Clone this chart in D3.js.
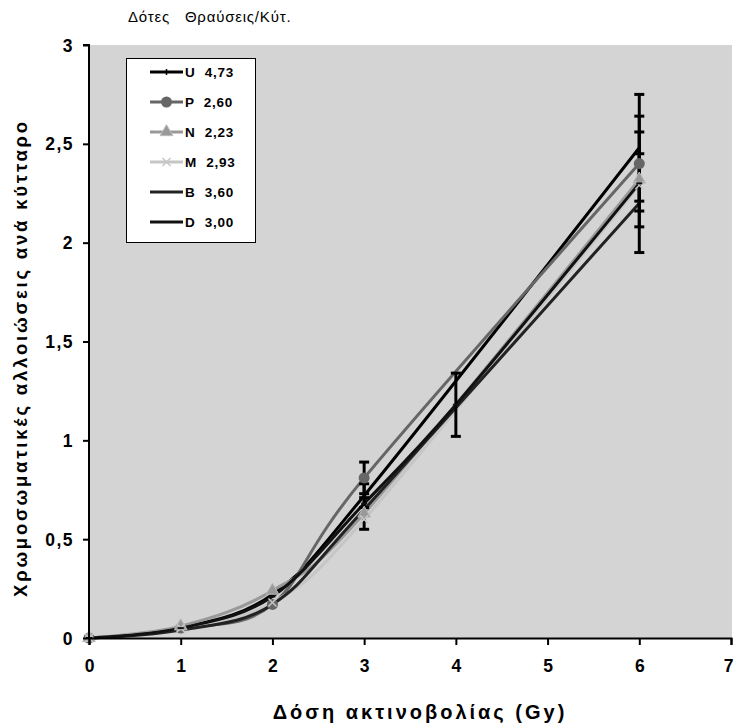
<!DOCTYPE html>
<html><head><meta charset="utf-8">
<script src="https://cdn.jsdelivr.net/npm/d3@7"></script>
<style>body{margin:0;background:#fff}svg{display:block}text{font-family:"Liberation Sans",Arial,sans-serif}</style>
</head><body>
<svg id="c" width="735" height="726"></svg>
<script>
const titleText = "Δότες   Θραύσεις/Κύτ.";
const xTicks = [0,1,2,3,4,5,6,7];
const yTicks = [0,0.5,1,1.5,2,2.5,3];
const yTickLabels = ["0","0,5","1","1,5","2","2,5","3"];
const seriesNames = ["U","P","N","M","B","D"];
const legendValues = ["4,73","2,60","2,23","2,93","3,60","3,00"];
const doses = [0,1,2,3,6];
const dosesD = [0,1,2,3,4,6];
const valU = [0,0.05,0.22,0.72,2.48];
const valP = [0,0.05,0.17,0.81,2.40];
const valN = [0,0.06,0.24,0.63,2.32];
const valM = [0,0.05,0.18,0.60,2.29];
const valB = [0,0.04,0.17,0.65,2.20];
const valD = [0,0.05,0.21,0.68,1.18,2.30];
const errU = [0,0,0,0.06,0.27];
const errP = [0,0,0,0.08,0.24];
const errN = [0,0,0,0.08,0.24];
const errM = [0,0,0,0,0];
const errB = [0,0,0,0,0.25];
const errD = [0,0,0,0,0.16,0];

const series = [
  {name:"U", xs:doses, ys:valU, err:errU, color:"#000000", marker:"vtick"},
  {name:"P", xs:doses, ys:valP, err:errP, color:"#666666", marker:"circle"},
  {name:"N", xs:doses, ys:valN, err:errN, color:"#999999", marker:"triangle"},
  {name:"M", xs:doses, ys:valM, err:errM, color:"#c6c6c6", marker:"cross"},
  {name:"B", xs:doses, ys:valB, err:errB, color:"#222222", marker:"none"},
  {name:"D", xs:dosesD, ys:valD, err:errD, color:"#111111", marker:"dash"}
];

const svg = d3.select("#c");
const L=89, R=731, T=45, B=638;
const x = d3.scaleLinear().domain([0,7]).range([L,R]);
const y = d3.scaleLinear().domain([0,3]).range([B,T]);

svg.append("rect").attr("x",L).attr("y",T).attr("width",R-L+1).attr("height",B-T).attr("fill","#d4d4d4");

// lines
const line = d3.line().curve(d3.curveCardinal.tension(0)).x(d=>x(d[0])).y(d=>y(d[1]));
series.forEach(s=>{
  const pts = s.xs.map((v,i)=>[v,s.ys[i]]);
  svg.append("path").attr("d",line(pts)).attr("fill","none").attr("stroke",s.color).attr("stroke-width",3);
});

function drawMarker(g, type, cx, cy, color){
  if(type==="circle") g.append("circle").attr("cx",cx).attr("cy",cy).attr("r",5.5).attr("fill",color);
  else if(type==="triangle") g.append("path").attr("d",d3.symbol(d3.symbolTriangle,70)()).attr("transform",`translate(${cx},${cy})`).attr("fill",color).attr("stroke","#bbbbbb").attr("stroke-width",1);
  else if(type==="cross") g.append("path").attr("d",`M${cx-4},${cy-4}L${cx+4},${cy+4}M${cx-4},${cy+4}L${cx+4},${cy-4}`).attr("stroke",color).attr("stroke-width",1.5);
  else if(type==="vtick") g.append("line").attr("x1",cx).attr("x2",cx).attr("y1",cy-3).attr("y2",cy+3).attr("stroke",color).attr("stroke-width",1.5);
  else if(type==="dash") g.append("line").attr("x1",cx-3).attr("x2",cx+3).attr("y1",cy).attr("y2",cy).attr("stroke",color).attr("stroke-width",2);
}

// error bars
const eg = svg.append("g");
series.forEach(s=>{
  s.xs.forEach((v,i)=>{
    const e = s.err[i];
    if(!e) return;
    const cx = x(v), y1 = y(s.ys[i]+e), y2 = y(s.ys[i]-e);
    eg.append("line").attr("x1",cx).attr("x2",cx).attr("y1",y1).attr("y2",y2).attr("stroke","#000").attr("stroke-width",3);
    [y1,y2].forEach(yy=>eg.append("line").attr("x1",cx-5).attr("x2",cx+5).attr("y1",yy).attr("y2",yy).attr("stroke","#000").attr("stroke-width",3));
  });
});

// markers
const mg = svg.append("g");
series.forEach(s=>{
  s.xs.forEach((v,i)=>drawMarker(mg, s.marker, x(v), y(s.ys[i]), s.color));
});

// axes
const ax = svg.append("g").attr("transform",`translate(0,${B})`).call(d3.axisBottom(x).tickValues(xTicks).tickSize(7).tickFormat(d3.format("d")));
const ay = svg.append("g").attr("transform",`translate(${L},0)`).call(d3.axisLeft(y).tickValues(yTicks).tickSize(6).tickFormat((d,i)=>yTickLabels[i]));
[ax,ay].forEach(a=>{
  a.select(".domain").attr("stroke","#000").attr("stroke-width",2);
  a.selectAll(".tick line").attr("stroke","#000").attr("stroke-width",2);
  a.selectAll(".tick text").attr("font-size",17.5).attr("font-weight","bold").attr("fill","#000").attr("font-family","Liberation Sans, Arial, sans-serif");
});
ay.selectAll(".tick text").attr("letter-spacing","1.5px");
ax.selectAll(".tick text").attr("y",22).attr("dy","0.71em").attr("x",d=>d===7?-3:0);
ay.selectAll(".tick text").attr("x",-15).attr("dy","0.35em");
ay.select(".domain").attr("d",`M-6,${T}H0V${B}`);

// axis titles
svg.append("text").attr("x",420).attr("y",719).attr("text-anchor","middle").attr("font-size",20).attr("font-weight","bold").attr("letter-spacing","3px").text("Δόση ακτινοβολίας (Gy)");
svg.append("text").attr("transform","translate(27,358) rotate(-90)").attr("text-anchor","middle").attr("font-size",18.5).attr("font-weight","bold").attr("letter-spacing","2.8px").text("Χρωμοσωματικές αλλοιώσεις ανά κύτταρο");

// title
svg.append("text").attr("x",128).attr("y",22).attr("font-size",15).attr("letter-spacing","0.8px").style("white-space","pre").text(titleText);

// legend
const lg = svg.append("g");
lg.append("rect").attr("x",126.5).attr("y",58.5).attr("width",129).attr("height",184).attr("fill","#fff").attr("stroke","#000").attr("stroke-width",1);
series.forEach((s,i)=>{
  const yy = 72 + i*30;
  lg.append("line").attr("x1",150).attr("x2",183).attr("y1",yy).attr("y2",yy).attr("stroke",s.color).attr("stroke-width",3);
  drawMarker(lg, s.marker, 166.5, yy, s.color);
  lg.append("text").attr("x",185).attr("y",yy+5).attr("font-size",13.5).attr("font-weight","bold").attr("letter-spacing","0.8px").style("white-space","pre").text(seriesNames[i]+"  "+legendValues[i]);
});
</script>
</body></html>
